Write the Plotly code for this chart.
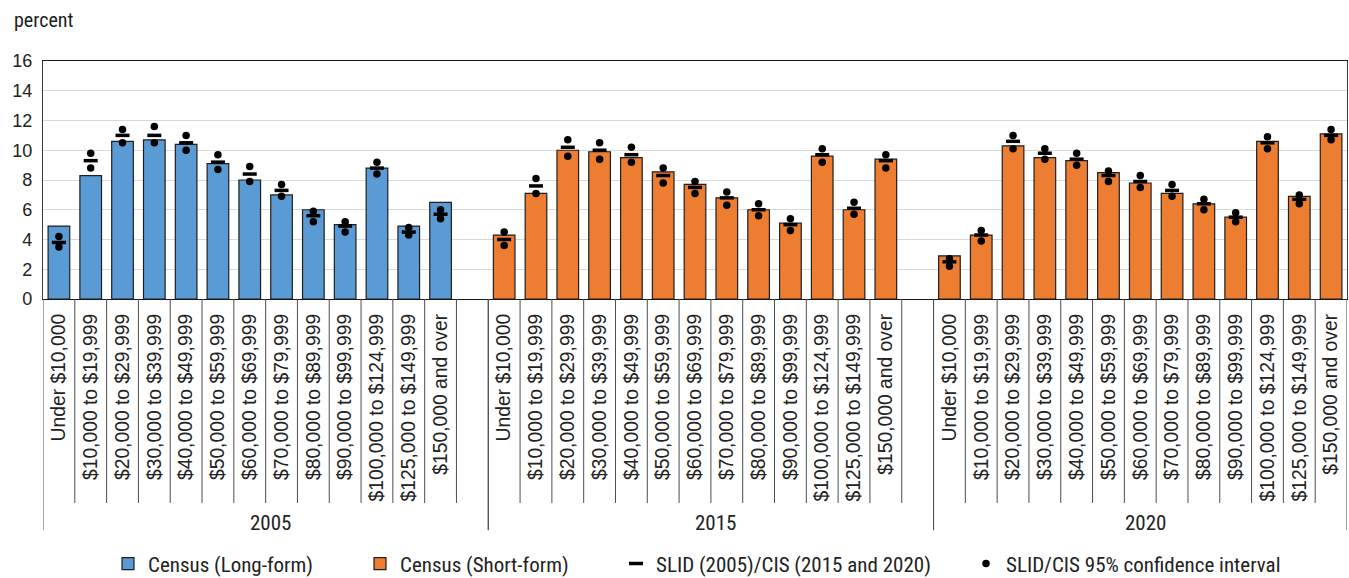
import plotly.graph_objects as go

# ---- data -------------------------------------------------------------
years = ["2005", "2015", "2020"]
brackets = [
    "Under $10,000", "$10,000 to $19,999", "$20,000 to $29,999",
    "$30,000 to $39,999", "$40,000 to $49,999", "$50,000 to $59,999",
    "$60,000 to $69,999", "$70,000 to $79,999", "$80,000 to $89,999",
    "$90,000 to $99,999", "$100,000 to $124,999", "$125,000 to $149,999",
    "$150,000 and over",
]

census_2005 = [4.9, 8.3, 10.6, 10.7, 10.4, 9.1, 8.0, 7.0, 6.0, 5.0, 8.8, 4.9, 6.5]
census_2015 = [4.3, 7.1, 10.0, 9.9, 9.5, 8.55, 7.7, 6.8, 6.0, 5.1, 9.6, 6.0, 9.4]
census_2020 = [2.9, 4.3, 10.3, 9.5, 9.3, 8.5, 7.8, 7.1, 6.4, 5.5, 10.6, 6.9, 11.1]

survey_2005 = [3.8, 9.3, 11.0, 11.0, 10.5, 9.2, 8.4, 7.3, 5.6, 4.9, 8.8, 4.5, 5.7]
survey_2015 = [4.0, 7.6, 10.2, 10.0, 9.7, 8.3, 7.5, 6.8, 6.0, 5.0, 9.7, 6.1, 9.3]
survey_2020 = [2.5, 4.3, 10.6, 9.8, 9.4, 8.3, 7.9, 7.3, 6.4, 5.5, 10.5, 6.7, 11.0]

ci_low_2005 = [3.5, 8.8, 10.5, 10.5, 10.0, 8.7, 7.9, 6.9, 5.2, 4.5, 8.4, 4.3, 5.4]
ci_high_2005 = [4.2, 9.8, 11.4, 11.6, 11.0, 9.7, 8.9, 7.7, 5.9, 5.2, 9.2, 4.8, 6.0]
ci_low_2015 = [3.6, 7.1, 9.6, 9.4, 9.2, 7.8, 7.1, 6.3, 5.6, 4.6, 9.2, 5.7, 8.8]
ci_high_2015 = [4.5, 8.1, 10.7, 10.5, 10.2, 8.8, 7.9, 7.2, 6.4, 5.4, 10.1, 6.5, 9.7]
ci_low_2020 = [2.2, 3.9, 10.1, 9.4, 9.0, 7.9, 7.5, 6.9, 6.0, 5.2, 10.1, 6.4, 10.7]
ci_high_2020 = [2.7, 4.6, 11.0, 10.1, 9.8, 8.6, 8.3, 7.7, 6.7, 5.8, 10.9, 7.0, 11.4]

# ---- category positions on a numeric axis ----------------------------
# each year block has one slot per bracket; 2005 and 2015 keep a spare slot
group_slots = [14, 14, 13]
group_start = [0, 14, 28]
n = len(brackets)
pos = [[g0 + i for i in range(n)] for g0 in group_start]
x_total = sum(group_slots)

BLUE = "#5B9BD5"
ORANGE = "#ED7D31"
TXT = "#222222"
NARROW = "'Roboto Condensed', Roboto, sans-serif"
REG = "'Liberation Sans', Arial, sans-serif"

fig = go.Figure()

fig.add_trace(go.Bar(
    x=pos[0], y=census_2005, name="Census (Long-form)",
    marker=dict(color=BLUE, line=dict(color="#1f1f1f", width=1.2)),
    width=0.68, legend="legend",
))
fig.add_trace(go.Bar(
    x=pos[1] + pos[2], y=census_2015 + census_2020, name="Census (Short-form)",
    marker=dict(color=ORANGE, line=dict(color="#1f1f1f", width=1.2)),
    width=0.68, legend="legend2",
))
fig.add_trace(go.Scatter(
    x=pos[0] + pos[1] + pos[2], y=survey_2005 + survey_2015 + survey_2020,
    mode="markers", name="SLID (2005)/CIS (2015 and 2020)",
    marker=dict(symbol="line-ew", size=10, color="black",
                line=dict(color="black", width=3.5)),
    legend="legend3",
))
ci_x = pos[0] * 2 + pos[1] * 2 + pos[2] * 2
ci_y = (ci_low_2005 + ci_high_2005 + ci_low_2015 + ci_high_2015
        + ci_low_2020 + ci_high_2020)
fig.add_trace(go.Scatter(
    x=ci_x, y=ci_y, mode="markers", name="SLID/CIS 95% confidence interval",
    marker=dict(symbol="circle", size=7.5, color="black"),
    legend="legend4",
))

# ---- dividers and year labels under the axis -------------------------
LINE = "#4d4d4d"
shapes = []
for g, g0 in enumerate(group_start):
    for k in range(1, group_slots[g]):
        xv = g0 + k - 0.5
        shapes.append(dict(type="line", xref="x", yref="paper", x0=xv, x1=xv,
                           y0=0, y1=-0.857, line=dict(color=LINE, width=1)))
    for xv in (g0 - 0.5, g0 + group_slots[g] - 0.5):
        shapes.append(dict(type="line", xref="x", yref="paper", x0=xv, x1=xv,
                           y0=0, y1=-0.971, line=dict(color=LINE, width=1)))

annotations = []
for g, yr in enumerate(years):
    cx = group_start[g] + (group_slots[g] - 1) / 2
    annotations.append(dict(text=yr, x=cx, xref="x", y=-0.941, yref="paper",
                            showarrow=False, xshift=5, yanchor="middle",
                            font=dict(family=NARROW, size=21, color=TXT)))
annotations.append(dict(text="percent", x=-0.0238, xref="paper", xanchor="left",
                        y=1.172, yref="paper", yanchor="middle", showarrow=False,
                        font=dict(family=NARROW, size=20, color=TXT)))

def legend_at(px_text):
    return dict(orientation="h", x=(px_text - 37 - 43) / 1304, xanchor="left",
                y=-1.113, yanchor="middle", bgcolor="rgba(0,0,0,0)",
                font=dict(family=NARROW, size=21, color=TXT),
                itemwidth=30, tracegroupgap=0)

fig.update_layout(
    width=1349, height=578,
    margin=dict(l=43, r=2, t=61, b=279, pad=0, autoexpand=False),
    paper_bgcolor="white", plot_bgcolor="white",
    barmode="overlay",
    showlegend=True,
    legend=legend_at(145),
    legend2=legend_at(397),
    legend3=legend_at(653),
    legend4=legend_at(1003),
    xaxis=dict(
        range=[-0.5, x_total - 0.5],
        tickmode="array", tickvals=pos[0] + pos[1] + pos[2],
        ticktext=brackets * 3, tickangle=-90,
        tickfont=dict(family=REG, size=19.3, color=TXT),
        showgrid=False, zeroline=False, ticks="",
        showline=True, linecolor="#1a1a1a", linewidth=1.3, mirror=True,
        ticklabelstandoff=6,
    ),
    yaxis=dict(
        range=[0, 16], dtick=2, tick0=0,
        tickfont=dict(family=REG, size=18, color=TXT),
        showgrid=True, gridcolor="#d9d9d9", gridwidth=1.2,
        zeroline=False, ticks="",
        showline=True, linecolor="#3a3a3a", linewidth=1.3, mirror=True,
        ticklabelstandoff=6,
    ),
    shapes=shapes,
    annotations=annotations,
)

fig.write_html("out.html")
